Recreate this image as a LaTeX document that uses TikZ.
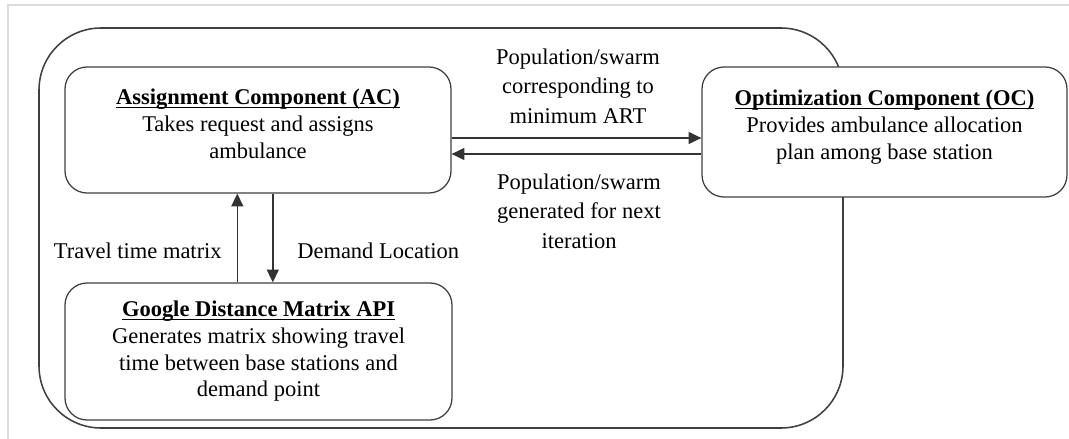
\documentclass[tikz,border=0pt]{standalone}
\usepackage{fontspec}
\setmainfont{Liberation Serif}
\usetikzlibrary{positioning,arrows.meta,calc}

% bold title with a close underline
\newcommand{\boxtitle}[1]{{\setbox0\hbox{\textbf{#1}}\rlap{\rule[-0.13em]{\wd0}{0.055em}}\box0}}

\begin{document}
\begin{tikzpicture}[
    >={Triangle[length=0.32cm,width=0.3cm]},
    font=\fontsize{16}{19}\selectfont,
    box/.style={
        draw=black!75,
        rounded corners=5.5mm,
        line width=0.9pt,
        minimum width=9.65cm,
        minimum height=3.15cm,
        align=center,
        fill=white
    },
    outer/.style={
        draw=black!75,
        rounded corners=1.55cm,
        line width=1.1pt
    },
    frame/.style={
        draw=black!14,
        line width=1pt
    },
    txt/.style={
        align=center,
        inner sep=0pt
    },
    lbl/.style={
        align=center,
        inner sep=0pt,
        font=\fontsize{16}{21}\selectfont
    },
    arr/.style={->, line width=1pt, draw=black!80}
]
\useasboundingbox (0,0) rectangle (26.725,-10.975);

% page frame and container
\draw[frame] (0.2,-0.125) rectangle (27.2,-11.5);
\draw[outer] (0.975,-0.7) rectangle (21.075,-10.7);

% components
\node[box] (ac) at (6.45,-3.25) {};
\node[txt, anchor=north] (actext) at (6.45,-2.225)
{\boxtitle{Assignment Component (AC)}\\
Takes request and assigns\\
ambulance};

\node[box, minimum width=9.125cm, minimum height=3.25cm] (oc) at (22.1125,-3.3) {};
\node[txt, anchor=north] (octext) at (22.1125,-2.25)
{\boxtitle{Optimization Component (OC)}\\
Provides ambulance allocation\\
plan among base station};

\node[box, minimum width=9.675cm, minimum height=3.425cm] (gdm) at (6.4625,-8.7875)
{\boxtitle{Google Distance Matrix API}\\
Generates matrix showing travel\\
time between base stations and\\
demand point};

% connectors
\draw[arr] ([xshift=-0.53cm]gdm.north) -- ([xshift=-0.53cm]gdm.north |- ac.south);
\draw[arr] ([xshift=0.37cm]ac.south) -- ([xshift=0.37cm]ac.south |- gdm.north);
\draw[arr] ([yshift=-0.2cm]ac.east) -- ([yshift=-0.2cm]ac.east -| oc.west);
\draw[arr] ([yshift=-0.6cm]ac.east -| oc.west) -- ([yshift=-0.6cm]ac.east);

% labels
\node[lbl] (bestswarm) at (14.45,-2.15)
{Population/swarm\\ corresponding to\\ minimum ART};
\node[lbl] (nextswarm) at (14.475,-5.275)
{Population/swarm\\ generated for next\\ iteration};
\node[lbl, anchor=east] (ttm) at (5.55,-6.28) {Travel time matrix};
\node[lbl, anchor=west] (demloc) at (7.425,-6.28) {Demand Location};

\end{tikzpicture}
\end{document}
